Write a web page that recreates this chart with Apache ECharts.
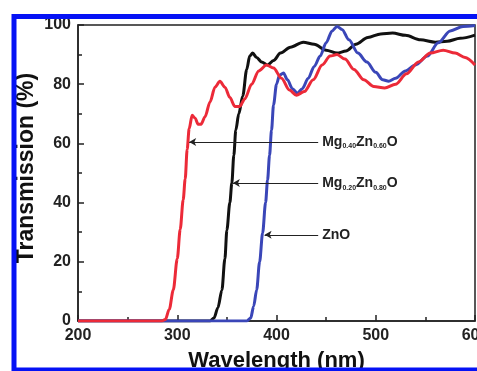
<!DOCTYPE html>
<html>
<head>
<meta charset="utf-8">
<script src="https://cdn.jsdelivr.net/npm/echarts@6/dist/echarts.min.js"></script>
<style>
  html, body { margin: 0; padding: 0; background: #fff; }
  #chart { width: 477px; height: 371px; }
</style>
</head>
<body>
<div id="chart"></div>
<script>
// transmission spectra, values
const wlRed = [200, 250, 284, 288, 292, 296, 300, 303, 306, 308, 310, 312, 315, 318, 321, 324, 328, 333, 338, 343, 348, 353, 358, 363, 368, 375, 382, 390, 397, 405, 413, 420, 428, 437, 446, 454, 461, 469, 478, 488, 498, 509, 520, 531, 543, 555, 568, 580, 590, 600]
const tRed = [0, 0, 0, 0.5, 4, 10.5, 21, 31, 41, 48, 58, 65, 69.5, 68.5, 66.5, 66.5, 69, 74, 79, 81, 79, 75.5, 72.5, 72.5, 75, 80, 84.5, 86.5, 85.5, 82, 78, 76.3, 77.5, 81.5, 86.5, 89.5, 90, 88.5, 85, 81.5, 79.2, 78.7, 80, 83.5, 87.5, 90.5, 91.5, 90.5, 89, 86.5]

const wlBlack = [200, 300, 333, 337, 341, 345, 348, 350, 353, 355, 357, 359, 362, 366, 370, 373, 376, 380, 385, 391, 397, 404, 414, 427, 438, 450, 461, 470, 480, 492, 505, 517, 530, 545, 560, 572, 585, 600]
const tBlack = [0, 0, 0, 1, 4.5, 10.5, 21, 30.7, 40, 46.6, 56, 64.5, 70, 76, 85, 89.5, 90.5, 89, 87.5, 86.5, 88, 90.5, 92.5, 94.2, 93.5, 91.5, 90.5, 91.2, 93.5, 95.8, 97, 97.3, 96.5, 95, 94.2, 94.5, 95.5, 96.6]

const wlBlue = [200, 300, 370, 374, 377, 380, 383, 386, 389, 391, 393, 395, 397, 400, 403, 407, 411, 416, 421, 426, 432, 438, 444, 450, 456, 461, 466, 473, 482, 491, 500, 507, 513, 520, 530, 540, 552, 563, 575, 588, 600]
const tBlue = [0, 0, 0, 1, 5, 10.5, 20, 29.7, 40, 47.6, 56, 64.5, 73, 80, 83, 83.8, 81.5, 78.5, 77, 78.5, 82, 86, 89.5, 94, 98, 99.5, 98.5, 95, 90.5, 87.5, 84, 81.5, 81, 82, 84.5, 86.5, 89.5, 94, 98, 99.5, 99.8]

const xTicks = [200, 300, 400, 500, 600]
const yTicks = [0, 20, 40, 60, 80, 100]

// annotation arrows: [label, arrow start (wl, T), arrow tip wl]
const notes = [
  ['Mg{s|0.40}Zn{s|0.60}O', 442, 60.5, 312],
  ['Mg{s|0.20}Zn{s|0.80}O', 442, 46.6, 356],
  ['ZnO', 442, 29.1, 388]
]

const font = 'Liberation Sans, Arial, sans-serif'

function pairs(xs, ys) {
  return xs.map((x, i) => [x, ys[i]])
}

function arrow(n) {
  return {
    silent: true,
    symbol: ['none', 'arrow'],
    symbolSize: [6, 7],
    lineStyle: { color: '#222', width: 1, type: 'solid' },
    label: {
      show: true,
      position: 'start',
      distance: 4,
      formatter: n[0],
      color: '#222',
      fontFamily: font,
      fontWeight: 'bold',
      fontSize: 14,
      rich: {
        s: { fontSize: 7, fontWeight: 'bold', fontFamily: font, color: '#222', padding: [9, 0, 0, 0] }
      }
    },
    data: [[{ coord: [n[1], n[2]] }, { coord: [n[3], n[2]] }]]
  }
}

const chart = echarts.init(document.getElementById('chart'))

chart.setOption({
  animation: false,
  backgroundColor: '#fff',
  graphic: [{
    type: 'rect',
    shape: { x: 14, y: 16.5, width: 600, height: 353.5 },
    style: { fill: 'none', stroke: '#0512f5', lineWidth: 5 },
    z: 100
  }],
  grid: {
    left: 78, right: 2, top: 25, bottom: 50,
    outerBoundsMode: 'none',
    containLabel: false,
    show: true, borderColor: '#222', borderWidth: 1.5
  },
  xAxis: {
    type: 'value',
    min: 200, max: 600, interval: 100,
    name: 'Wavelength (nm)',
    nameLocation: 'middle',
    nameGap: 29,
    nameMoveOverlap: false,
    nameTextStyle: { fontFamily: font, fontWeight: 'bold', fontSize: 22, color: '#111' },
    axisLine: { lineStyle: { color: '#222', width: 1.5 } },
    axisTick: { inside: true, length: 6, lineStyle: { color: '#222', width: 1.5 } },
    minorTick: { show: true, splitNumber: 2, length: 4, lineStyle: { color: '#222', width: 1.5 } },
    splitLine: { show: false },
    axisLabel: {
      margin: 7, fontFamily: font, fontWeight: 'bold', fontSize: 16, color: '#222',
      formatter: v => xTicks.includes(v) ? String(v) : ''
    }
  },
  yAxis: {
    type: 'value',
    min: 0, max: 100, interval: 20,
    name: 'Transmission (%)',
    nameLocation: 'middle',
    nameGap: 40,
    nameMoveOverlap: false,
    nameTextStyle: { fontFamily: font, fontWeight: 'bold', fontSize: 23, color: '#111', padding: [0, 0, 0, 10] },
    axisLine: { show: true, lineStyle: { color: '#222', width: 1.5 } },
    axisTick: { show: true, inside: true, length: 6, lineStyle: { color: '#222', width: 1.5 } },
    minorTick: { show: true, splitNumber: 2, length: 4, lineStyle: { color: '#222', width: 1.5 } },
    splitLine: { show: false },
    axisLabel: {
      margin: 7, fontFamily: font, fontWeight: 'bold', fontSize: 16, color: '#222',
      formatter: v => yTicks.includes(v) ? String(v) : ''
    }
  },
  series: [
    {
      name: 'Mg0.20Zn0.80O',
      type: 'line',
      data: pairs(wlBlack, tBlack),
      showSymbol: false,
      smooth: 0.3,
      smoothMonotone: 'x',
      lineStyle: { color: '#111', width: 3 },
      markLine: arrow(notes[1])
    },
    {
      name: 'ZnO',
      type: 'line',
      data: pairs(wlBlue, tBlue),
      showSymbol: false,
      smooth: 0.3,
      smoothMonotone: 'x',
      lineStyle: { color: '#3a46b8', width: 3 },
      markLine: arrow(notes[2])
    },
    {
      name: 'Mg0.40Zn0.60O',
      type: 'line',
      data: pairs(wlRed, tRed),
      showSymbol: false,
      smooth: 0.3,
      smoothMonotone: 'x',
      lineStyle: { color: '#ec2a38', width: 3 },
      markLine: arrow(notes[0])
    }
  ]
})
</script>
</body>
</html>
